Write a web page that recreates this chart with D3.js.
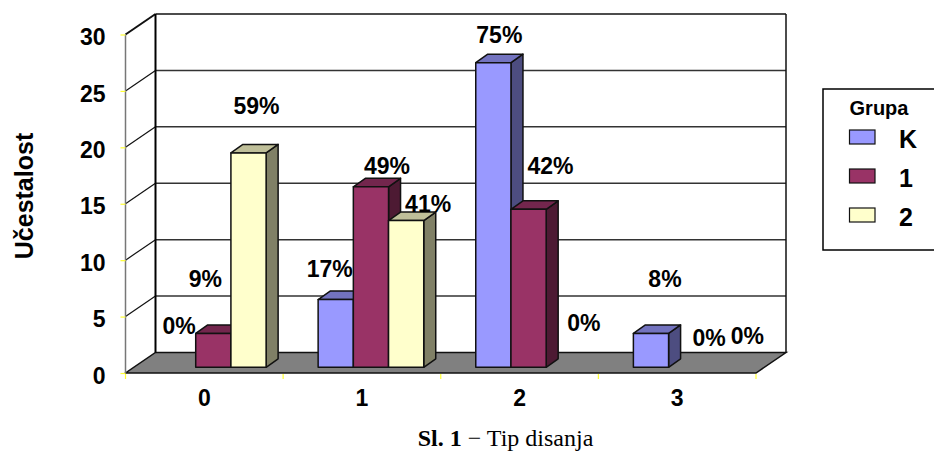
<!DOCTYPE html>
<html lang="en">
<head>
  <meta charset="UTF-8">
  <title>Tip disanja</title>
  <script src="https://d3js.org/d3.v7.min.js"></script>
  <style>
    html, body { margin: 0; padding: 0; background: #fff; overflow: hidden; }
    svg { display: block; }
    text { font-family: "Liberation Sans", Arial, sans-serif; font-weight: bold; fill: #000; }
  </style>
</head>
<body>
  <svg width="934" height="451"></svg>
  <script>
    // Data
    const categories = ['0', '1', '2', '3'];
    const groups = ['K', '1', '2'];
    const valuesK = [0, 6, 27, 3];
    const values1 = [3, 16, 14, 0];
    const values2 = [19, 13, 0, 0];
    const percentK = ['0%', '17%', '75%', '8%'];
    const percent1 = ['9%', '49%', '42%', '0%'];
    const percent2 = ['59%', '41%', '0%', '0%'];
    const yTicks = [0, 5, 10, 15, 20, 25, 30];

    const fronts = ['#9999ff', '#993366', '#ffffcc'];
    const tops = ['#7373bf', '#73264d', '#bfbf99'];
    const sides = ['#4d4d80', '#4d1a33', '#808066'];

    // hand placed labels, nudge from the top centre of each bar (dx, dy)
    const nudges = [
      [[1, -41], [-6, -31], [6, -28], [14, -55]],
      [[-8, -55], [16, -21], [22, -43], [23, -29]],
      [[8, -47], [22, -17], [20, -44], [26, -31]]
    ];

    const series = [valuesK, values1, values2];
    const labels = [percentK, percent1, percent2];

    const svg = d3.select('svg');
    const depthX = 30, depthY = -20.5;   // chart box depth
    const barDX = 12, barDY = -8.5;      // bar depth
    const offX = 9, offY = -5.7;         // bars sit a bit back on the floor

    const x = d3.scaleBand().domain(categories).range([125.5, 756]);
    const xBar = d3.scaleBand().domain(d3.range(3)).range([x.bandwidth() * 0.165, x.bandwidth() * 0.835]);
    const y = d3.scaleLinear().domain([0, 30]).range([373, 34.5]);

    const x0 = x.range()[0], x1 = x.range()[1];
    const poly = pts => 'M' + pts.join('L') + 'Z';

    // floor
    svg.append('path')
      .attr('d', poly([[x0, y(0)], [x1, y(0)], [x1 + depthX, y(0) + depthY], [x0 + depthX, y(0) + depthY]]))
      .attr('fill', '#808080').attr('stroke', '#111').attr('stroke-width', 1.5);

    // grid on back wall and side wall
    svg.append('g').selectAll('line.grid')
      .data(yTicks.slice(1))
      .enter().append('line')
      .attr('x1', x0 + depthX).attr('x2', x1 + depthX)
      .attr('y1', d => y(d) + depthY).attr('y2', d => y(d) + depthY)
      .attr('stroke', d => d === 30 ? '#111' : '#333').attr('stroke-width', 1.5);

    svg.append('g').selectAll('line.side')
      .data(yTicks.slice(1))
      .enter().append('line')
      .attr('x1', x0).attr('x2', x0 + depthX)
      .attr('y1', d => y(d)).attr('y2', d => y(d) + depthY)
      .attr('stroke', '#111').attr('stroke-width', d => d === 30 ? 2 : 1.2);

    // walls
    svg.append('line').attr('x1', x0 + depthX).attr('x2', x0 + depthX)
      .attr('y1', y(30) + depthY).attr('y2', y(0) + depthY)
      .attr('stroke', '#000').attr('stroke-width', 2);
    svg.append('line').attr('x1', x1 + depthX).attr('x2', x1 + depthX)
      .attr('y1', y(30) + depthY).attr('y2', y(0) + depthY)
      .attr('stroke', '#111').attr('stroke-width', 1.5);
    svg.append('line').attr('x1', x0).attr('x2', x0)
      .attr('y1', y(30)).attr('y2', y(0))
      .attr('stroke', '#777').attr('stroke-width', 1.5);

    // y axis, yellow ticks
    const yAxis = svg.append('g').attr('transform', `translate(${x0},0)`)
      .call(d3.axisLeft(y).tickValues(yTicks).tickSize(5).tickPadding(15));
    yAxis.select('.domain').remove();
    yAxis.selectAll('line').attr('stroke', '#ffff33').attr('stroke-width', 1.2);
    yAxis.selectAll('text').attr('font-size', 23).attr('font-family', null).attr('dy', '0.44em');

    // x axis labels
    const xAxis = svg.append('g').attr('transform', `translate(0,${y(0)})`)
      .call(d3.axisBottom(x).tickSize(0).tickPadding(17));
    xAxis.select('.domain').remove();
    xAxis.selectAll('text').attr('font-size', 23).attr('font-family', null);

    // yellow ticks at the category edges
    svg.append('g').selectAll('line.xtick')
      .data(categories.map(c => x(c)).concat(x1))
      .enter().append('line')
      .attr('x1', d => d).attr('x2', d => d)
      .attr('y1', y(0) + 1).attr('y2', y(0) + 6)
      .attr('stroke', '#ffff33').attr('stroke-width', 1.2);

    // bars, left to right so the neighbour hides the side face
    const barW = xBar.bandwidth();
    categories.forEach((c, ci) => {
      series.forEach((vals, si) => {
        const v = vals[ci];
        if (!v) return;
        const left = x(c) + xBar(si) + offX;
        const right = left + barW;
        const top = y(v) + offY;
        const bottom = y(0) + offY;
        const g = svg.append('g').attr('stroke', '#111').attr('stroke-width', 1.5).attr('stroke-linejoin', 'round');
        g.append('path').attr('fill', sides[si])
          .attr('d', poly([[right, top], [right + barDX, top + barDY], [right + barDX, bottom + barDY], [right, bottom]]));
        g.append('path').attr('fill', tops[si])
          .attr('d', poly([[left, top], [left + barDX, top + barDY], [right + barDX, top + barDY], [right, top]]));
        g.append('rect').attr('fill', fronts[si])
          .attr('x', left).attr('y', top).attr('width', barW).attr('height', bottom - top);
      });
    });

    // percent labels
    categories.forEach((c, ci) => {
      series.forEach((vals, si) => {
        const cx = x(c) + xBar(si) + offX + barW / 2;
        svg.append('text')
          .attr('x', cx + nudges[si][ci][0])
          .attr('y', y(vals[ci]) + offY + nudges[si][ci][1])
          .attr('dy', '0.35em')
          .attr('text-anchor', 'middle')
          .attr('font-size', 23)
          .text(labels[si][ci]);
      });
    });

    // y title
    svg.append('text')
      .attr('transform', 'translate(24,196) rotate(-90)')
      .attr('dy', '0.35em')
      .attr('text-anchor', 'middle')
      .attr('font-size', 25)
      .text('Učestalost');

    // legend
    svg.append('rect').attr('x', 823).attr('y', 89).attr('width', 130).attr('height', 161)
      .attr('fill', '#fff').attr('stroke', '#000').attr('stroke-width', 1.5);
    svg.append('text').attr('x', 879).attr('y', 108).attr('dy', '0.35em')
      .attr('text-anchor', 'middle').attr('font-size', 20).text('Grupa');
    const legendY = d3.scalePoint().domain(groups).range([137, 215]);
    const legend = svg.append('g').selectAll('g')
      .data(groups)
      .enter().append('g')
      .attr('transform', d => `translate(0,${legendY(d)})`);
    legend.append('rect').attr('x', 849.5).attr('y', -7).attr('width', 25.5).attr('height', 14)
      .attr('fill', (d, i) => fronts[i]).attr('stroke', '#111').attr('stroke-width', 1.2);
    legend.append('text').attr('x', 899).attr('y', 2).attr('dy', '0.36em').attr('font-size', 25).text(d => d);

    // caption
    const caption = svg.append('text').attr('x', 505.5).attr('y', 446).attr('text-anchor', 'middle')
      .attr('font-size', 24).style('font-family', '"Liberation Serif", "Times New Roman", serif')
      .style('font-weight', 'normal');
    caption.append('tspan').style('font-weight', 'bold').text('Sl. 1');
    caption.append('tspan').text(' − Tip disanja');
  </script>
</body>
</html>
